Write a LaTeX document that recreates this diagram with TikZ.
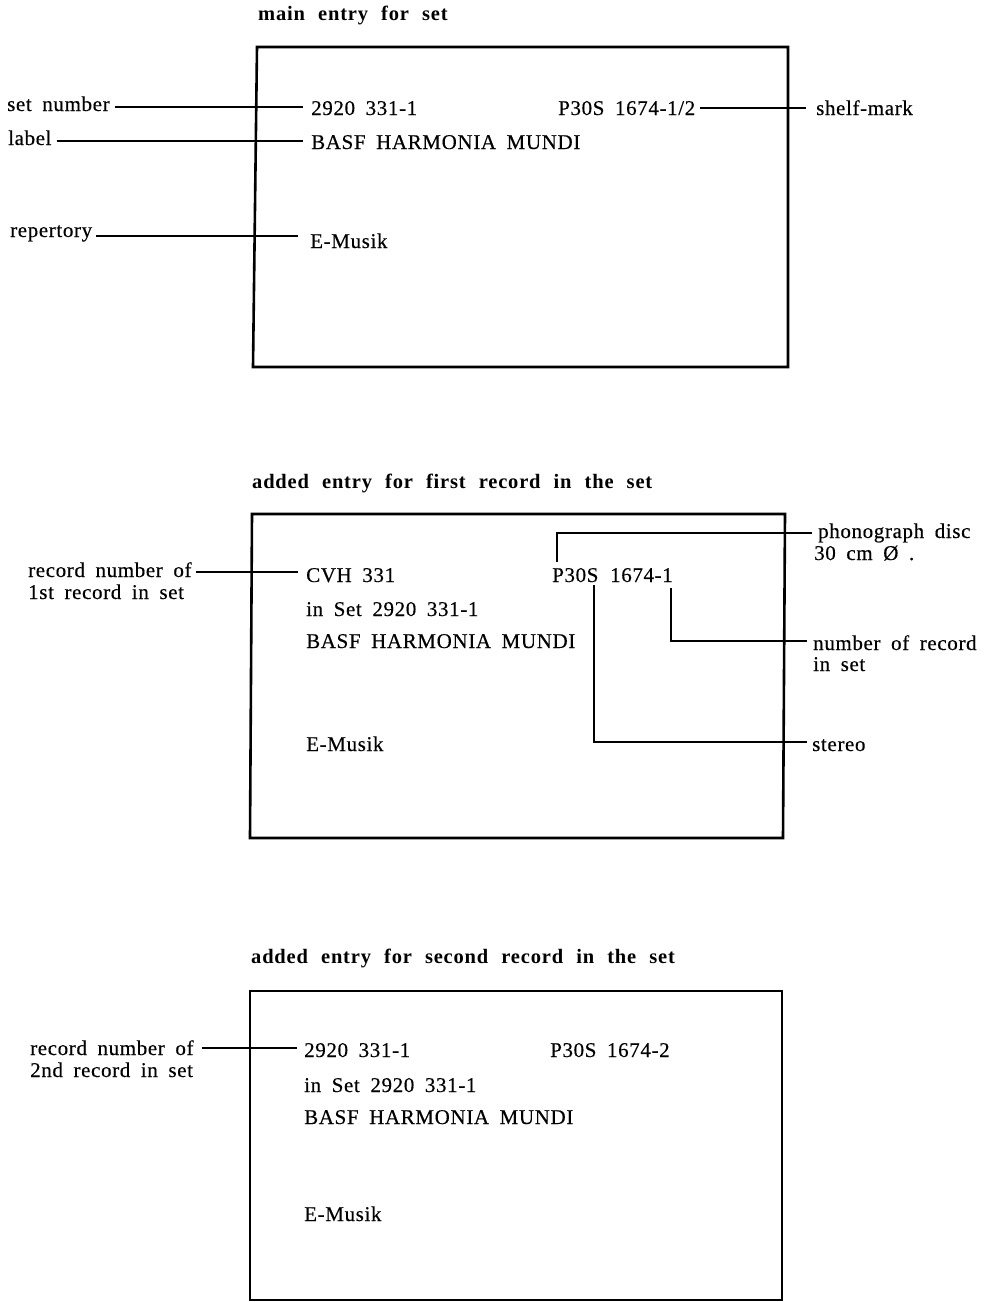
\documentclass[tikz,border=0pt]{standalone}
\usepackage{fontspec}
\setmainfont{Liberation Serif}
\newfontfamily\cardfont{Liberation Serif}[LetterSpace=3, WordSpace=1.8, FakeBold=0.35]
\newfontfamily\titlefont{Liberation Serif}[LetterSpace=4, WordSpace=2.2]
\begin{document}
\begin{tikzpicture}[x=1pt,y=-1pt,
  txt/.style={anchor=base west, inner sep=0pt, font=\fontsize{21}{24}\cardfont},
  ttl/.style={anchor=base west, inner sep=0pt, font=\fontsize{20.5}{24}\titlefont\bfseries},
  card/.style={line width=2.6pt, line join=miter},
  conn/.style={line width=1.6pt}]
\useasboundingbox (0,0) rectangle (1002,1302);

% ---------- card 1 ----------
\node[ttl] (t1) at (258,20) {main entry for set};
\draw[card] (257,47) -- (788,47) -- (788,367) -- (253,367) -- cycle;
\node[txt] (lsetnum) at (7,111) {set number};
\node[txt] (llabel) at (8,145) {label};
\node[txt] (lrep) at (10,237) {repertory};
\node[txt] (dsetnum) at (311,115) {2920 331-1};
\node[txt] (dlabel) at (311,149) {BASF HARMONIA MUNDI};
\node[txt] (drep) at (310,248) {E-Musik};
\node[txt] (dshelf) at (558,115) {P30S 1674-1/2};
\node[txt] (lshelf) at (816,115) {shelf-mark};
\draw[conn] ([xshift=5pt]lsetnum.east |- 0,107) -- ([xshift=-8pt]dsetnum.west |- 0,107);
\draw[conn] ([xshift=5pt]llabel.east |- 0,141) -- ([xshift=-8pt]dlabel.west |- 0,141);
\draw[conn] ([xshift=4pt]lrep.east |- 0,236) -- ([xshift=-12pt]drep.west |- 0,236);
\draw[conn] ([xshift=5pt]dshelf.east |- 0,108) -- ([xshift=-10pt]lshelf.west |- 0,108);

% ---------- card 2 ----------
\node[ttl] (t2) at (252,488) {added entry for first record in the set};
\draw[card] (252,514) -- (785,514) -- (783,838) -- (250,838) -- cycle;
\node[txt] (lrec1a) at (28,577) {record number of};
\node[txt] (lrec1b) at (28,599) {1st record in set};
\node[txt] (dcvh) at (306,582) {CVH 331};
\node[txt] (din1) at (306,616) {in Set 2920 331-1};
\node[txt] (dbasf2) at (306,648) {BASF HARMONIA MUNDI};
\node[txt] (demus2) at (306,751) {E-Musik};
\node[txt] (dp1a) at (552,582) {P30S};
\node[txt] (dp1b) at (610,582) {1674-1};
\node[txt] (lphA) at (818,538) {phonograph disc};
\node[txt] (lphB) at (814,560) {30 cm Ø .};
\node[txt] (lnumA) at (813,650) {number of record};
\node[txt] (lnumB) at (813,671) {in set};
\node[txt] (lstereo) at (812,751) {stereo};
\draw[conn] ([xshift=4pt]lrec1a.east |- 0,572) -- ([xshift=-8pt]dcvh.west |- 0,572);
\draw[conn] ([xshift=5pt,yshift=6pt]dp1a.north west) |- ([xshift=-6pt]lphA.west |- 0,533);
\draw[conn] ([xshift=-2pt,yshift=-6pt]dp1b.south east) |- ([xshift=-6pt]lnumA.west |- 0,641);
\draw[conn] ([xshift=-4.5pt,yshift=-3pt]dp1a.south east) |- ([xshift=-5pt]lstereo.west |- 0,742);

% ---------- card 3 ----------
\node[ttl] (t3) at (251,963) {added entry for second record in the set};
\draw[card] (250,991) -- (782,991) -- (782,1300) -- (250,1300) -- cycle;
\node[txt] (lrec2a) at (30,1055) {record number of};
\node[txt] (lrec2b) at (30,1077) {2nd record in set};
\node[txt] (d2a) at (304,1057) {2920 331-1};
\node[txt] (d2b) at (304,1092) {in Set 2920 331-1};
\node[txt] (d2c) at (304,1124) {BASF HARMONIA MUNDI};
\node[txt] (d2d) at (304,1221) {E-Musik};
\node[txt] (d2p) at (550,1057) {P30S 1674-2};
\draw[conn] ([xshift=8pt]lrec2a.east |- 0,1048) -- ([xshift=-7pt]d2a.west |- 0,1048);
\end{tikzpicture}
\end{document}
